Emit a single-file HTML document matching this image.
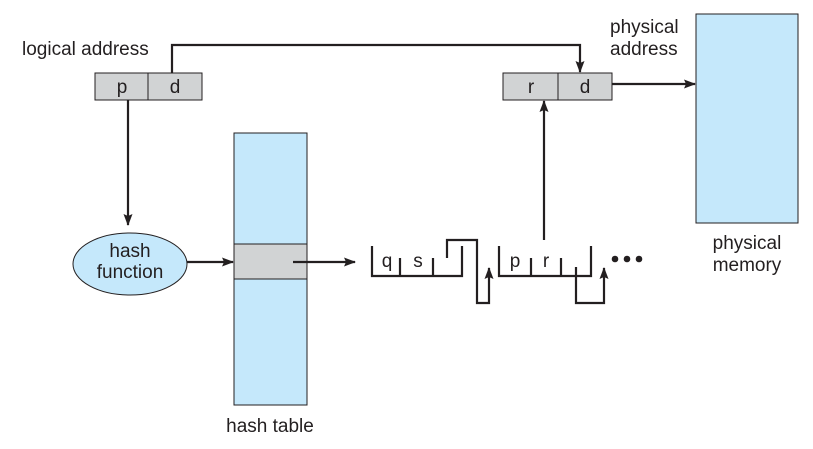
<!DOCTYPE html><html><head><style>body{margin:0;background:#fff}svg{display:block}text{font-family:"Liberation Sans",sans-serif;font-size:19px;fill:#231f20}</style></head><body>
<svg width="813" height="449" viewBox="0 0 813 449">
<defs><marker id="a" markerWidth="12" markerHeight="12" refX="11" refY="6" orient="auto" markerUnits="userSpaceOnUse"><path d="M0,1.5 L12,6 L0,10.5 L2,6 Z" fill="#231f20"/></marker></defs>
<g stroke="#231f20" stroke-width="1" fill="#d1d3d4">
<rect x="95" y="73" width="107" height="27"/><line x1="148" y1="73" x2="148" y2="100"/>
<rect x="503" y="73" width="109" height="27"/><line x1="558" y1="73" x2="558" y2="100"/>
<rect x="696" y="14" width="102" height="209" fill="#c5e8fb"/>
<rect x="234" y="133" width="73" height="272" fill="#c5e8fb"/>
<rect x="234" y="244" width="73" height="35" fill="#d1d3d4"/>
<ellipse cx="130" cy="264" rx="57" ry="31" fill="#c5e8fb"/>
</g>
<text x="122" y="93" text-anchor="middle">p</text><text x="175" y="93" text-anchor="middle">d</text>
<text x="531" y="93" text-anchor="middle">r</text><text x="585" y="93" text-anchor="middle">d</text>
<text x="22" y="55">logical address</text>
<text x="610" y="33">physical</text><text x="610" y="55">address</text>
<text x="747" y="249" text-anchor="middle">physical</text><text x="747" y="271" text-anchor="middle">memory</text>
<text x="130" y="257" text-anchor="middle">hash</text><text x="130" y="278" text-anchor="middle">function</text>
<text x="270" y="432" text-anchor="middle">hash table</text>
<text x="387" y="267" text-anchor="middle">q</text><text x="418" y="267" text-anchor="middle">s</text>
<text x="515" y="267" text-anchor="middle">p</text><text x="546" y="267" text-anchor="middle">r</text>
<g stroke="#231f20" stroke-width="2.2" fill="none">
<path d="M172,73 V45 H580 V72" marker-end="url(#a)"/>
<path d="M128,100 V225" marker-end="url(#a)"/>
<path d="M612,84 H695" marker-end="url(#a)"/>
<path d="M187,262 H233" marker-end="url(#a)"/>
<path d="M293,262 H355" marker-end="url(#a)"/>
<path d="M544,240 V101" marker-end="url(#a)"/>
<path d="M372,246 V276 H462 V246 M400,276 V258 M433,276 V258"/>
<path d="M447,258 V240 H477 V303 H489 V268" marker-end="url(#a)"/>
<path d="M499,246 V276 H591 V246 M531,276 V258 M561,276 V258"/>
<path d="M576,267 V303 H604 V268" marker-end="url(#a)"/>
</g>
<g fill="#231f20"><circle cx="615" cy="259" r="3.3"/><circle cx="627" cy="259" r="3.3"/><circle cx="639" cy="259" r="3.3"/></g>
</svg></body></html>
